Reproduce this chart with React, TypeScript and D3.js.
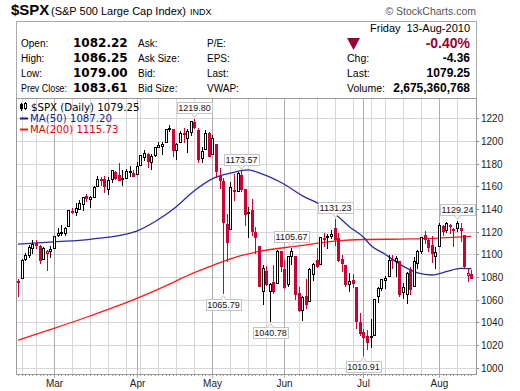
import React from "react";
import * as d3 from "d3";

// trading days shown on the chart
const dates = [
  "2010-02-12", "2010-02-16", "2010-02-17", "2010-02-18", "2010-02-19", "2010-02-22", "2010-02-23", "2010-02-24", "2010-02-25", "2010-02-26",
  "2010-03-01", "2010-03-02", "2010-03-03", "2010-03-04", "2010-03-05", "2010-03-08", "2010-03-09", "2010-03-10", "2010-03-11", "2010-03-12",
  "2010-03-15", "2010-03-16", "2010-03-17", "2010-03-18", "2010-03-19", "2010-03-22", "2010-03-23", "2010-03-24", "2010-03-25", "2010-03-26",
  "2010-03-29", "2010-03-30", "2010-03-31",
  "2010-04-01", "2010-04-05", "2010-04-06", "2010-04-07", "2010-04-08", "2010-04-09", "2010-04-12", "2010-04-13", "2010-04-14", "2010-04-15",
  "2010-04-16", "2010-04-19", "2010-04-20", "2010-04-21", "2010-04-22", "2010-04-23", "2010-04-26", "2010-04-27", "2010-04-28", "2010-04-29", "2010-04-30",
  "2010-05-03", "2010-05-04", "2010-05-05", "2010-05-06", "2010-05-07", "2010-05-10", "2010-05-11", "2010-05-12", "2010-05-13", "2010-05-14",
  "2010-05-17", "2010-05-18", "2010-05-19", "2010-05-20", "2010-05-21", "2010-05-24", "2010-05-25", "2010-05-26", "2010-05-27", "2010-05-28",
  "2010-06-01", "2010-06-02", "2010-06-03", "2010-06-04", "2010-06-07", "2010-06-08", "2010-06-09", "2010-06-10", "2010-06-11", "2010-06-14",
  "2010-06-15", "2010-06-16", "2010-06-17", "2010-06-18", "2010-06-21", "2010-06-22", "2010-06-23", "2010-06-24", "2010-06-25", "2010-06-28",
  "2010-06-29", "2010-06-30",
  "2010-07-01", "2010-07-02", "2010-07-06", "2010-07-07", "2010-07-08", "2010-07-09", "2010-07-12", "2010-07-13", "2010-07-14", "2010-07-15",
  "2010-07-16", "2010-07-19", "2010-07-20", "2010-07-21", "2010-07-22", "2010-07-23", "2010-07-26", "2010-07-27", "2010-07-28", "2010-07-29", "2010-07-30",
  "2010-08-02", "2010-08-03", "2010-08-04", "2010-08-05", "2010-08-06", "2010-08-09", "2010-08-10", "2010-08-11", "2010-08-12", "2010-08-13",
];

const opens = [
  1075.95, 1079.13, 1096.14, 1099.03, 1105.49, 1110.0, 1107.49, 1095.89, 1101.24, 1103.1,
  1105.36, 1117.01, 1119.36, 1119.12, 1125.12, 1138.4, 1137.56, 1140.22, 1143.96, 1151.71,
  1148.53, 1150.83, 1159.94, 1166.13, 1166.68, 1157.25, 1166.47, 1172.7, 1170.03, 1167.58,
  1167.71, 1173.75, 1171.75,
  1171.23, 1178.71, 1186.01, 1188.23, 1181.75, 1187.47, 1194.94, 1195.94, 1198.69, 1210.77,
  1210.17, 1192.06, 1199.04, 1207.16, 1202.52, 1207.87, 1217.07, 1209.92, 1184.59, 1193.3, 1206.77,
  1188.58, 1197.5, 1169.24, 1164.38, 1127.04, 1122.27, 1156.39, 1155.43, 1170.04, 1157.19,
  1136.52, 1138.78, 1119.57, 1107.34, 1067.26, 1084.78, 1067.42, 1075.51, 1074.27, 1102.59,
  1087.3, 1073.89, 1098.82, 1098.43, 1065.84, 1050.81, 1062.75, 1058.77, 1082.65, 1095.0,
  1091.21, 1114.02, 1115.98, 1116.16, 1122.79, 1113.9, 1095.57, 1090.93, 1073.67, 1077.5,
  1071.1, 1040.56,
  1031.1, 1027.65, 1028.09, 1028.54, 1062.92, 1070.5, 1077.23, 1080.65, 1095.61, 1094.46,
  1093.85, 1066.85, 1064.53, 1086.67, 1072.14, 1092.17, 1102.89, 1117.36, 1112.84, 1108.07, 1098.44,
  1107.53, 1125.34, 1121.06, 1125.78, 1122.07, 1122.8, 1122.92, 1116.89, 1081.48, 1082.22,
];

const highs = [
  1077.81, 1095.67, 1101.03, 1108.24, 1112.42, 1112.29, 1108.58, 1106.42, 1103.5, 1107.24,
  1116.11, 1123.46, 1125.64, 1123.73, 1139.38, 1141.05, 1145.37, 1148.26, 1150.24, 1153.41,
  1150.98, 1160.28, 1169.2, 1167.77, 1169.2, 1167.82, 1174.72, 1173.04, 1180.69, 1173.93,
  1174.85, 1177.83, 1174.56,
  1181.43, 1187.73, 1191.8, 1189.6, 1188.55, 1194.66, 1199.2, 1199.04, 1210.65, 1213.92,
  1210.17, 1197.87, 1208.58, 1210.99, 1210.27, 1217.28, 1219.8, 1211.38, 1195.05, 1209.36, 1207.99,
  1205.13, 1197.5, 1175.95, 1167.58, 1135.13, 1163.85, 1170.48, 1172.87, 1173.57, 1157.19,
  1141.88, 1148.66, 1124.27, 1107.34, 1090.16, 1089.95, 1074.75, 1090.75, 1103.52, 1102.59,
  1094.77, 1098.56, 1105.67, 1098.43, 1071.36, 1063.15, 1077.74, 1087.85, 1092.25, 1105.91,
  1115.59, 1118.74, 1117.72, 1121.01, 1131.23, 1118.5, 1099.64, 1090.93, 1083.6, 1082.6,
  1071.1, 1048.08,
  1033.58, 1032.95, 1042.5, 1060.89, 1071.25, 1078.16, 1080.78, 1099.46, 1099.08, 1098.66,
  1093.85, 1074.7, 1083.94, 1088.96, 1097.5, 1103.73, 1115.01, 1120.95, 1114.66, 1115.9, 1106.44,
  1127.3, 1125.44, 1128.75, 1126.56, 1123.06, 1129.24, 1127.16, 1116.89, 1086.72, 1086.25,
];

const lows = [
  1062.97, 1079.13, 1094.72, 1097.48, 1100.8, 1105.38, 1092.18, 1095.5, 1086.02, 1097.56,
  1105.36, 1116.51, 1116.58, 1116.66, 1125.12, 1136.77, 1134.9, 1140.09, 1138.99, 1146.97,
  1141.45, 1150.35, 1159.94, 1161.16, 1155.33, 1152.88, 1163.83, 1166.01, 1165.09, 1161.48,
  1167.71, 1168.92, 1169.15,
  1170.69, 1178.71, 1182.77, 1177.25, 1175.12, 1187.15, 1194.71, 1188.82, 1198.69, 1208.5,
  1186.77, 1183.68, 1199.04, 1198.85, 1190.19, 1205.1, 1211.07, 1181.62, 1181.81, 1193.3, 1186.32,
  1188.58, 1168.12, 1158.15, 1065.79, 1094.15, 1122.27, 1147.71, 1155.43, 1156.14, 1126.14,
  1114.96, 1117.2, 1100.66, 1071.58, 1055.9, 1072.7, 1040.78, 1065.59, 1074.27, 1084.78,
  1069.89, 1072.03, 1091.81, 1060.5, 1049.86, 1042.17, 1052.25, 1058.77, 1077.12, 1089.03,
  1091.21, 1107.13, 1105.87, 1113.93, 1108.24, 1094.18, 1085.31, 1071.6, 1067.89, 1071.45,
  1035.18, 1028.33,
  1010.91, 1015.93, 1018.35, 1028.54, 1058.24, 1068.1, 1070.45, 1080.65, 1087.68, 1080.53,
  1063.32, 1061.11, 1056.88, 1065.25, 1072.14, 1087.88, 1101.3, 1109.78, 1103.11, 1092.82, 1088.01,
  1107.53, 1116.76, 1119.46, 1118.81, 1107.17, 1120.91, 1111.58, 1088.99, 1076.69, 1079.0,
];

const closes = [
  1075.51, 1094.87, 1099.51, 1106.75, 1109.17, 1108.01, 1094.6, 1105.24, 1102.94, 1104.49,
  1115.71, 1118.31, 1118.79, 1122.97, 1138.7, 1138.5, 1140.45, 1145.61, 1150.24, 1149.99,
  1150.51, 1159.46, 1166.21, 1165.83, 1159.9, 1165.81, 1174.17, 1167.72, 1165.73, 1166.59,
  1173.22, 1173.27, 1169.43,
  1178.1, 1187.44, 1189.44, 1182.45, 1186.44, 1194.37, 1196.48, 1197.3, 1210.65, 1211.67,
  1192.13, 1197.52, 1207.17, 1205.94, 1208.67, 1217.28, 1212.05, 1183.71, 1191.36, 1206.78, 1186.69,
  1202.26, 1173.6, 1165.9, 1128.15, 1110.88, 1159.73, 1155.79, 1171.67, 1157.44, 1135.68,
  1136.94, 1120.8, 1115.05, 1071.59, 1087.69, 1073.65, 1074.03, 1067.95, 1103.06, 1089.41,
  1070.71, 1098.38, 1102.83, 1064.88, 1050.47, 1062.0, 1055.69, 1086.84, 1091.6, 1089.63,
  1115.23, 1114.61, 1116.04, 1117.51, 1113.2, 1095.31, 1092.04, 1073.69, 1076.76, 1074.57,
  1041.24, 1030.71,
  1027.37, 1022.58, 1028.06, 1060.27, 1070.25, 1077.96, 1078.75, 1095.34, 1095.17, 1096.48,
  1064.88, 1071.25, 1083.48, 1069.59, 1093.67, 1102.66, 1115.01, 1113.84, 1106.13, 1101.53, 1101.6,
  1125.86, 1120.46, 1127.24, 1125.81, 1121.64, 1127.79, 1121.06, 1089.47, 1083.61, 1079.25,
];
const prevClose0 = 1078.47;

// moving averages (day index -> value)
const ma50Idx = [0, 10, 20, 33, 38, 44, 49, 55, 59, 64, 67, 73, 80, 83, 89, 92, 96, 98, 102, 107, 111, 115, 119, 123, 126];
const ma50Val = [1109, 1111, 1113.2, 1120.5, 1128.7, 1142, 1156, 1168, 1171.5, 1174.4, 1171.8, 1163.5, 1150, 1145.5, 1133, 1124.5, 1115, 1108, 1100, 1089.5, 1083.5, 1081.7, 1084.6, 1087.6, 1087.2];
const ma200Idx = [0, 10, 20, 33, 43, 47, 54, 59, 67, 78, 88, 96, 109, 118, 126];
const ma200Val = [1024.3, 1034.6, 1045.5, 1061, 1075, 1081, 1090, 1096, 1102.5, 1107.3, 1111.5, 1113, 1113.5, 1114.5, 1115.7];

// labelled highs / lows
const annIdx = [49, 62, 57, 70, 76, 88, 96, 122];
const annVal = [1219.8, 1173.57, 1065.79, 1040.78, 1105.67, 1131.23, 1010.91, 1129.24];
const annHigh = [true, true, false, false, true, true, false, true];

const yTicks = [1000, 1020, 1040, 1060, 1080, 1100, 1120, 1140, 1160, 1180, 1200, 1220];
const monthNames = ["Jan", "Feb", "Mar", "Apr", "May", "Jun", "Jul", "Aug", "Sep", "Oct", "Nov", "Dec"];

const leftRows = [
  ["Open:", "1082.22", "Ask:", "P/E:"],
  ["High:", "1086.25", "Ask Size:", "EPS:"],
  ["Low:", "1079.00", "Bid:", "Last:"],
  ["Prev Close:", "1083.61", "Bid Size:", "VWAP:"],
];
const rightRows = [
  ["Chg:", "-4.36"],
  ["Last:", "1079.25"],
  ["Volume:", "2,675,360,768"],
];

const RED = "#cc0033";
const SANS = "'Liberation Sans', Arial, sans-serif";
const VERD = "'DejaVu Sans', Verdana, sans-serif";

export default function App() {
  const L = 16, R = 476, T = 98, B = 374;
  const x = d3.scaleLinear().domain([-0.56, 127.28]).range([L, R]);
  const y = d3.scaleLinear().domain([994.3, 1237.9]).range([B, T]);

  const parsed = dates.map((s) => {
    const [yy, mm, dd] = s.split("-").map(Number);
    return new Date(Date.UTC(yy, mm - 1, dd));
  });
  const monthStarts: number[] = [];
  const weekStarts: number[] = [];
  parsed.forEach((d, i) => {
    if (i === 0) return;
    const p = parsed[i - 1];
    if (d.getUTCMonth() !== p.getUTCMonth()) monthStarts.push(i);
    else if (d.getUTCDay() < p.getUTCDay()) weekStarts.push(i);
  });

  const line50 = d3.line<number>().x((_, k) => x(ma50Idx[k])).y((d) => y(d)).curve(d3.curveMonotoneX);
  const line200 = d3.line<number>().x((_, k) => x(ma200Idx[k])).y((d) => y(d)).curve(d3.curveMonotoneX);

  const rowY = [47, 62, 77, 92];

  return (
    <svg width={520} height={391} style={{ position: "absolute", left: 0, top: 0, display: "block", background: "#fff" }}>
      {/* title */}
      <text x={11} y={15} fontFamily={SANS} fontWeight="bold" fontSize={15}>$SPX</text>
      <text x={51} y={15} fontFamily={SANS} fontSize={11}>(S&amp;P 500 Large Cap Index)</text>
      <text x={190} y={15} fontFamily={SANS} fontSize={9}>INDX</text>
      <text x={476} y={15} textAnchor="end" fontFamily={SANS} fontSize={10.5} fill="#555">© StockCharts.com</text>

      {/* quote box */}
      <rect x={16.5} y={21.5} width={460} height={77} fill="#fff" stroke="#aaa" />
      {leftRows.map((r, k) => (
        <g key={k} fontFamily={SANS} fontSize={10}>
          {r[0].length > 6 ? (
            <text x={21} y={rowY[k]} textLength={46} lengthAdjust="spacingAndGlyphs">{r[0]}</text>
          ) : (
            <text x={21} y={rowY[k]}>{r[0]}</text>
          )}
          <text x={73} y={rowY[k]} fontFamily={VERD} fontWeight="bold" fontSize={12}>{r[1]}</text>
          <text x={138} y={rowY[k]}>{r[2]}</text>
          <text x={207} y={rowY[k]}>{r[3]}</text>
        </g>
      ))}
      <text x={370} y={32} fontFamily={SANS} fontSize={11}>Friday</text>
      <text x={470} y={32} textAnchor="end" fontFamily={SANS} fontSize={11}>13-Aug-2010</text>
      <path d="M347,38 L360,38 L353.5,50 Z" fill="#990033" />
      <text x={470} y={48} textAnchor="end" fontFamily={SANS} fontWeight="bold" fontSize={14} fill="#990033">-0.40%</text>
      {rightRows.map((r, k) => (
        <g key={k} fontFamily={SANS}>
          <text x={347} y={rowY[k + 1]} fontSize={10.5}>{r[0]}</text>
          <text x={470} y={rowY[k + 1]} textAnchor="end" fontWeight="bold" fontSize={12}>{r[1]}</text>
        </g>
      ))}

      {/* grid */}
      {yTicks.map((v) => {
        const yy = Math.round(y(v)) + 0.5;
        return (
          <g key={v}>
            <line x1={L} x2={R} y1={yy} y2={yy} stroke="#d6d6d6" />
            <line x1={R} x2={R + 3} y1={yy} y2={yy} stroke="#888" />
            <text x={481} y={yy + 3.6} fontFamily={SANS} fontSize={10} fill="#222">{v}</text>
          </g>
        );
      })}
      {weekStarts.map((i) => {
        const xx = Math.round(x(i)) + 0.5;
        return <line key={"w" + i} x1={xx} x2={xx} y1={T} y2={B} stroke="#d6d6d6" />;
      })}
      {monthStarts.map((i) => {
        const xx = Math.round(x(i)) + 0.5;
        return (
          <g key={"m" + i}>
            <line x1={xx} x2={xx} y1={T} y2={B + 4} stroke="#adadad" />
            <text x={xx} y={387} textAnchor="middle" fontFamily={SANS} fontSize={10} fill="#222">
              {monthNames[parsed[i].getUTCMonth()]}
            </text>
          </g>
        );
      })}
      {dates.map((_, i) => {
        const xx = Math.round(x(i)) + 0.5;
        return <line key={"t" + i} x1={xx} x2={xx} y1={B} y2={B + 2} stroke="#999" />;
      })}

      {/* moving averages */}
      <path d={line200(ma200Val) || ""} fill="none" stroke="#ff1a1a" strokeWidth={1.3} />
      <path d={line50(ma50Val) || ""} fill="none" stroke="#2b2b9e" strokeWidth={1.3} />

      {/* candles */}
      {closes.map((c, i) => {
        const o = opens[i];
        const prev = i === 0 ? prevClose0 : closes[i - 1];
        const col = c < prev ? RED : "#000";
        const px = Math.round(x(i));
        const yo = Math.round(y(o));
        const yc = Math.round(y(c));
        const top = Math.min(yo, yc);
        const bot = Math.max(yo, yc);
        const hollow = c >= o;
        return (
          <g key={"c" + i}>
            <line x1={px + 0.5} x2={px + 0.5} y1={Math.round(y(highs[i]))} y2={Math.round(y(lows[i])) + 1} stroke={col} />
            <rect x={px - 0.5} y={top + 0.5} width={2} height={Math.max(bot - top, 1)} fill={hollow ? "#fff" : col} stroke={col} />
          </g>
        );
      })}

      {/* annotations */}
      {annIdx.map((i, k) => {
        const cx = Math.round(x(i)) + 0.5;
        const v = annVal[k];
        const bw = 35, bh = 11;
        const bx = Math.round(cx - bw / 2) + 0.5;
        let by: number, ptr: string;
        if (annHigh[k]) {
          const tip = Math.round(y(v)) - 1.5;
          by = tip - 4 - bh;
          ptr = `M${cx - 3},${by + bh} L${cx},${tip} L${cx + 3},${by + bh}`;
        } else {
          const tip = Math.round(y(v)) + 2.5;
          by = tip + 4;
          ptr = `M${cx - 3},${by} L${cx},${tip} L${cx + 3},${by}`;
        }
        return (
          <g key={"a" + k}>
            <rect x={bx} y={by} width={bw} height={bh} fill="#fff" stroke="#c4c4c4" />
            <path d={ptr} fill="#fff" stroke="#c4c4c4" />
            <text x={cx} y={by + 8.8} textAnchor="middle" fontFamily={SANS} fontSize={9} fill="#111">{v.toFixed(2)}</text>
          </g>
        );
      })}

      {/* legend */}
      <line x1={21.5} x2={21.5} y1={103} y2={111} stroke="#000" />
      <rect x={20.5} y={104.5} width={2} height={4} fill="#000" stroke="#000" />
      <line x1={25.5} x2={25.5} y1={102} y2={110} stroke="#000" />
      <rect x={24.5} y={103.5} width={2} height={5} fill="#fff" stroke="#000" />
      <g fontFamily={VERD} fontSize={10.2}>
        <text x={31} y={110.5}>$SPX (Daily) 1079.25</text>
        <text x={30} y={121.5} fill="#1a1a99">MA(50) 1087.20</text>
        <text x={30} y={132.5} fill="#ee0000">MA(200) 1115.73</text>
      </g>
      <line x1={20} x2={28} y1={118.5} y2={118.5} stroke="#1a1a8c" strokeWidth={2} />
      <line x1={20} x2={28} y1={129.5} y2={129.5} stroke="#ff1a1a" strokeWidth={2} />

      {/* frame */}
      <rect x={L + 0.5} y={T + 0.5} width={R - L} height={B - T} fill="none" stroke="#999" />
    </svg>
  );
}
